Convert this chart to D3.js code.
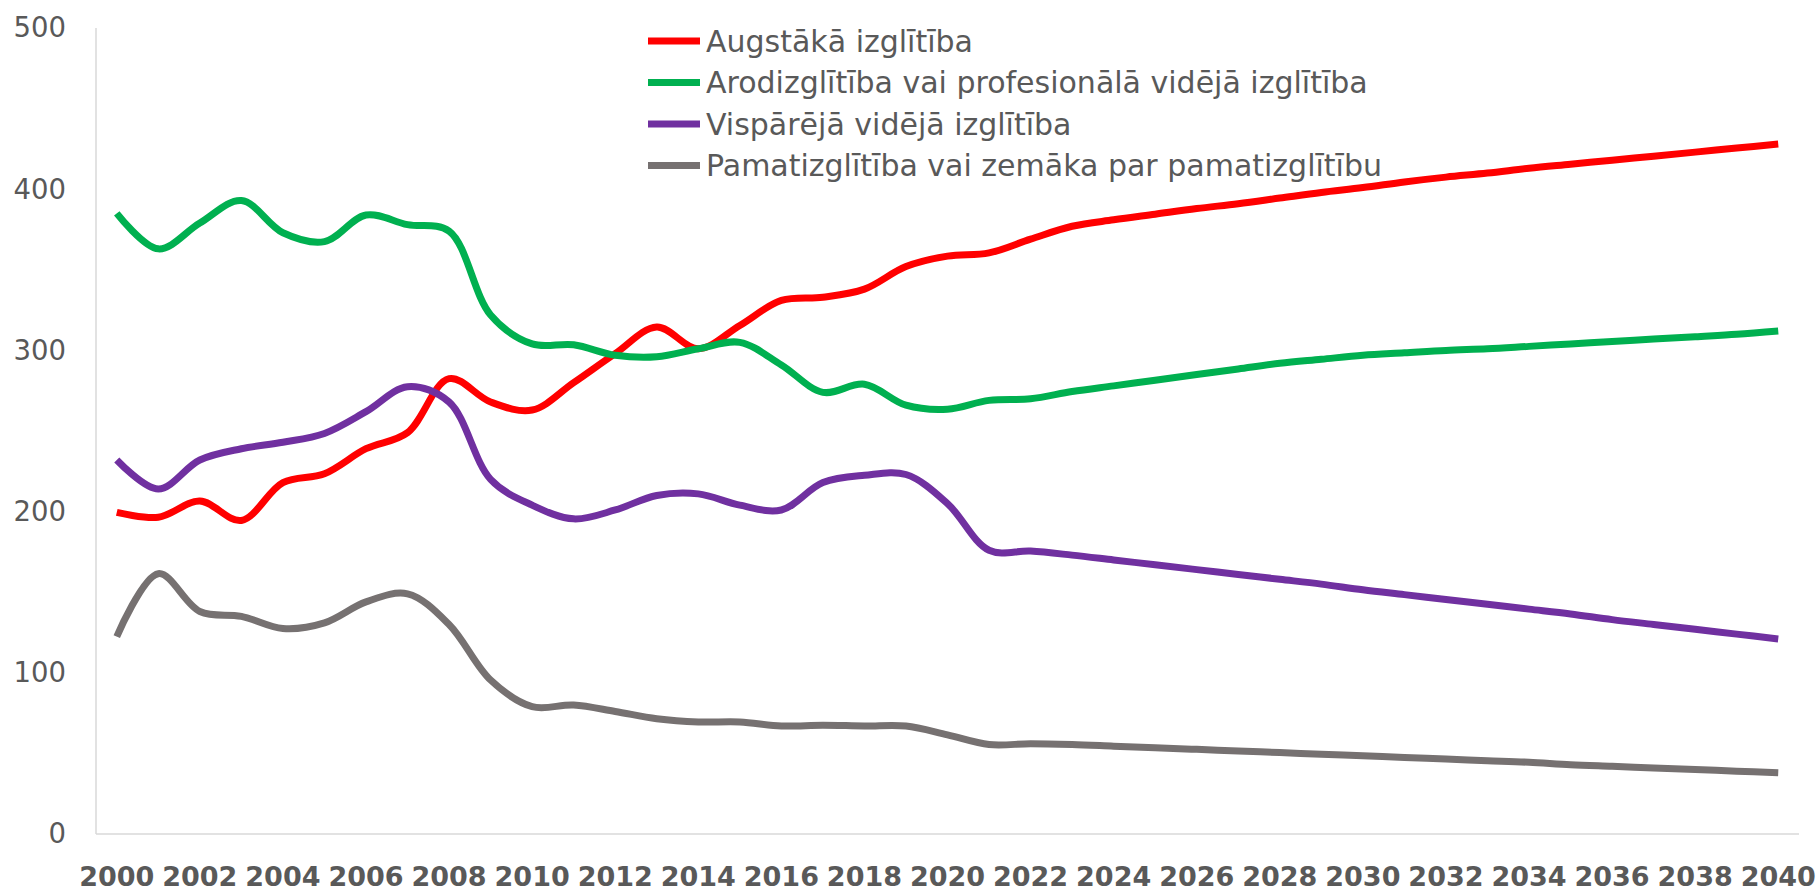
<!DOCTYPE html>
<html>
<head>
<meta charset="utf-8">
<script src="https://cdn.jsdelivr.net/npm/d3@7"></script>
<style>
  body { margin: 0; background: #fff; }
  svg { display: block; }
</style>
</head>
<body>
<svg id="chart" width="1816" height="893"></svg>
<script>
// years on the category axis
const years = d3.range(2000, 2041);
const yTicks = [0, 100, 200, 300, 400, 500];

const seriesNames = [
  "Augstākā izglītība",
  "Arodizglītība vai profesionālā vidējā izglītība",
  "Vispārējā vidējā izglītība",
  "Pamatizglītība vai zemāka par pamatizglītību"
];
const seriesColors = ["#FF0000", "#00B050", "#7030A0", "#767171"];

const higher = [199.5, 196.5, 206.5, 194.5, 218, 223.5, 239, 249, 282.5, 268,
  263, 280, 298, 314.5, 301, 315.5, 331, 333, 338, 352,
  358.5, 360.5, 369, 377, 381, 384.5, 388, 391, 394.5, 398,
  401, 404.5, 407.5, 410, 413, 415.5, 418, 420.5, 423, 425.5, 428];
const vocational = [385, 363, 379, 393, 373, 367.5, 384, 378, 374, 322,
  304, 303.5, 297, 296, 301, 305, 291, 274, 279, 266,
  263.5, 269, 270, 274.5, 278, 281.5, 285, 288.5, 292, 294.5,
  297, 298.5, 300, 301, 302.5, 304, 305.5, 307, 308.5, 310, 312];
const general = [232, 214, 232, 239, 243, 248.5, 262, 277.5, 268, 220,
  204, 195.5, 201, 210, 211, 204, 201, 218, 222.5, 223,
  205, 176, 175.5, 173, 170, 167, 164, 161, 158, 155,
  151.5, 148.5, 145.5, 142.5, 139.5, 136.5, 133, 130, 127, 124, 121];
const basic = [122.5, 161.5, 138, 135, 127.5, 131, 144, 149, 130, 95.5,
  79, 80, 76, 71.5, 69.5, 69.5, 67, 67.5, 67, 67,
  61.5, 55.5, 56, 55.5, 54.5, 53.5, 52.5, 51.5, 50.5, 49.5,
  48.5, 47.5, 46.5, 45.5, 44.5, 43, 42, 41, 40, 39, 38];

const seriesValues = [higher, vocational, general, basic];

const svg = d3.select("#chart");
const plot = { left: 96, right: 1799, top: 28, bottom: 834 };

const x = d3.scaleBand()
  .domain(years)
  .range([plot.left, plot.right]);
const y = d3.scaleLinear()
  .domain([0, 500])
  .range([plot.bottom, plot.top]);

const cx = d => x(d) + x.bandwidth() / 2;

// axis lines
svg.append("line")
  .attr("x1", plot.left).attr("x2", plot.left)
  .attr("y1", plot.top).attr("y2", plot.bottom)
  .attr("stroke", "#D9D9D9").attr("stroke-width", 1.5);
svg.append("line")
  .attr("x1", plot.left).attr("x2", plot.right)
  .attr("y1", plot.bottom).attr("y2", plot.bottom)
  .attr("stroke", "#D9D9D9").attr("stroke-width", 1.5);

// y labels
const yAxis = svg.append("g")
  .attr("transform", `translate(${plot.left},0)`)
  .call(d3.axisLeft(y).tickValues(yTicks).tickSize(0).tickPadding(30));
yAxis.select(".domain").remove();
yAxis.selectAll("text")
  .attr("fill", "#595959")
  .style("font-family", "'DejaVu Sans', sans-serif")
  .style("font-size", "27.5px");

// x labels, every second year
const xAxis = svg.append("g")
  .attr("transform", `translate(0,${plot.bottom})`)
  .call(d3.axisBottom(x).tickValues(years.filter(d => d % 2 === 0)).tickSize(0).tickPadding(33));
xAxis.select(".domain").remove();
xAxis.selectAll("text")
  .attr("fill", "#595959")
  .style("font-family", "'DejaVu Sans', sans-serif")
  .style("font-weight", "bold")
  .style("font-size", "27px");

// lines
const line = d3.line()
  .x((d, i) => cx(years[i]))
  .y(d => y(d))
  .curve(d3.curveCatmullRom.alpha(0.5));

svg.append("g")
  .selectAll("path")
  .data(seriesValues)
  .join("path")
  .attr("d", line)
  .attr("fill", "none")
  .attr("stroke", (d, i) => seriesColors[i])
  .attr("stroke-width", 7)
  .attr("stroke-linejoin", "round");

// legend
const legend = svg.append("g").attr("transform", "translate(648,41)");
const rows = legend.selectAll("g")
  .data(seriesNames)
  .join("g")
  .attr("transform", (d, i) => `translate(0,${i * 41.5})`);
rows.append("line")
  .attr("x1", 0).attr("x2", 52)
  .attr("stroke", (d, i) => seriesColors[i])
  .attr("stroke-width", 7);
rows.append("text")
  .attr("x", 58)
  .attr("dy", "0.35em")
  .attr("fill", "#595959")
  .style("font-family", "'DejaVu Sans', sans-serif")
  .style("font-size", "30px")
  .text(d => d);
</script>
</body>
</html>
